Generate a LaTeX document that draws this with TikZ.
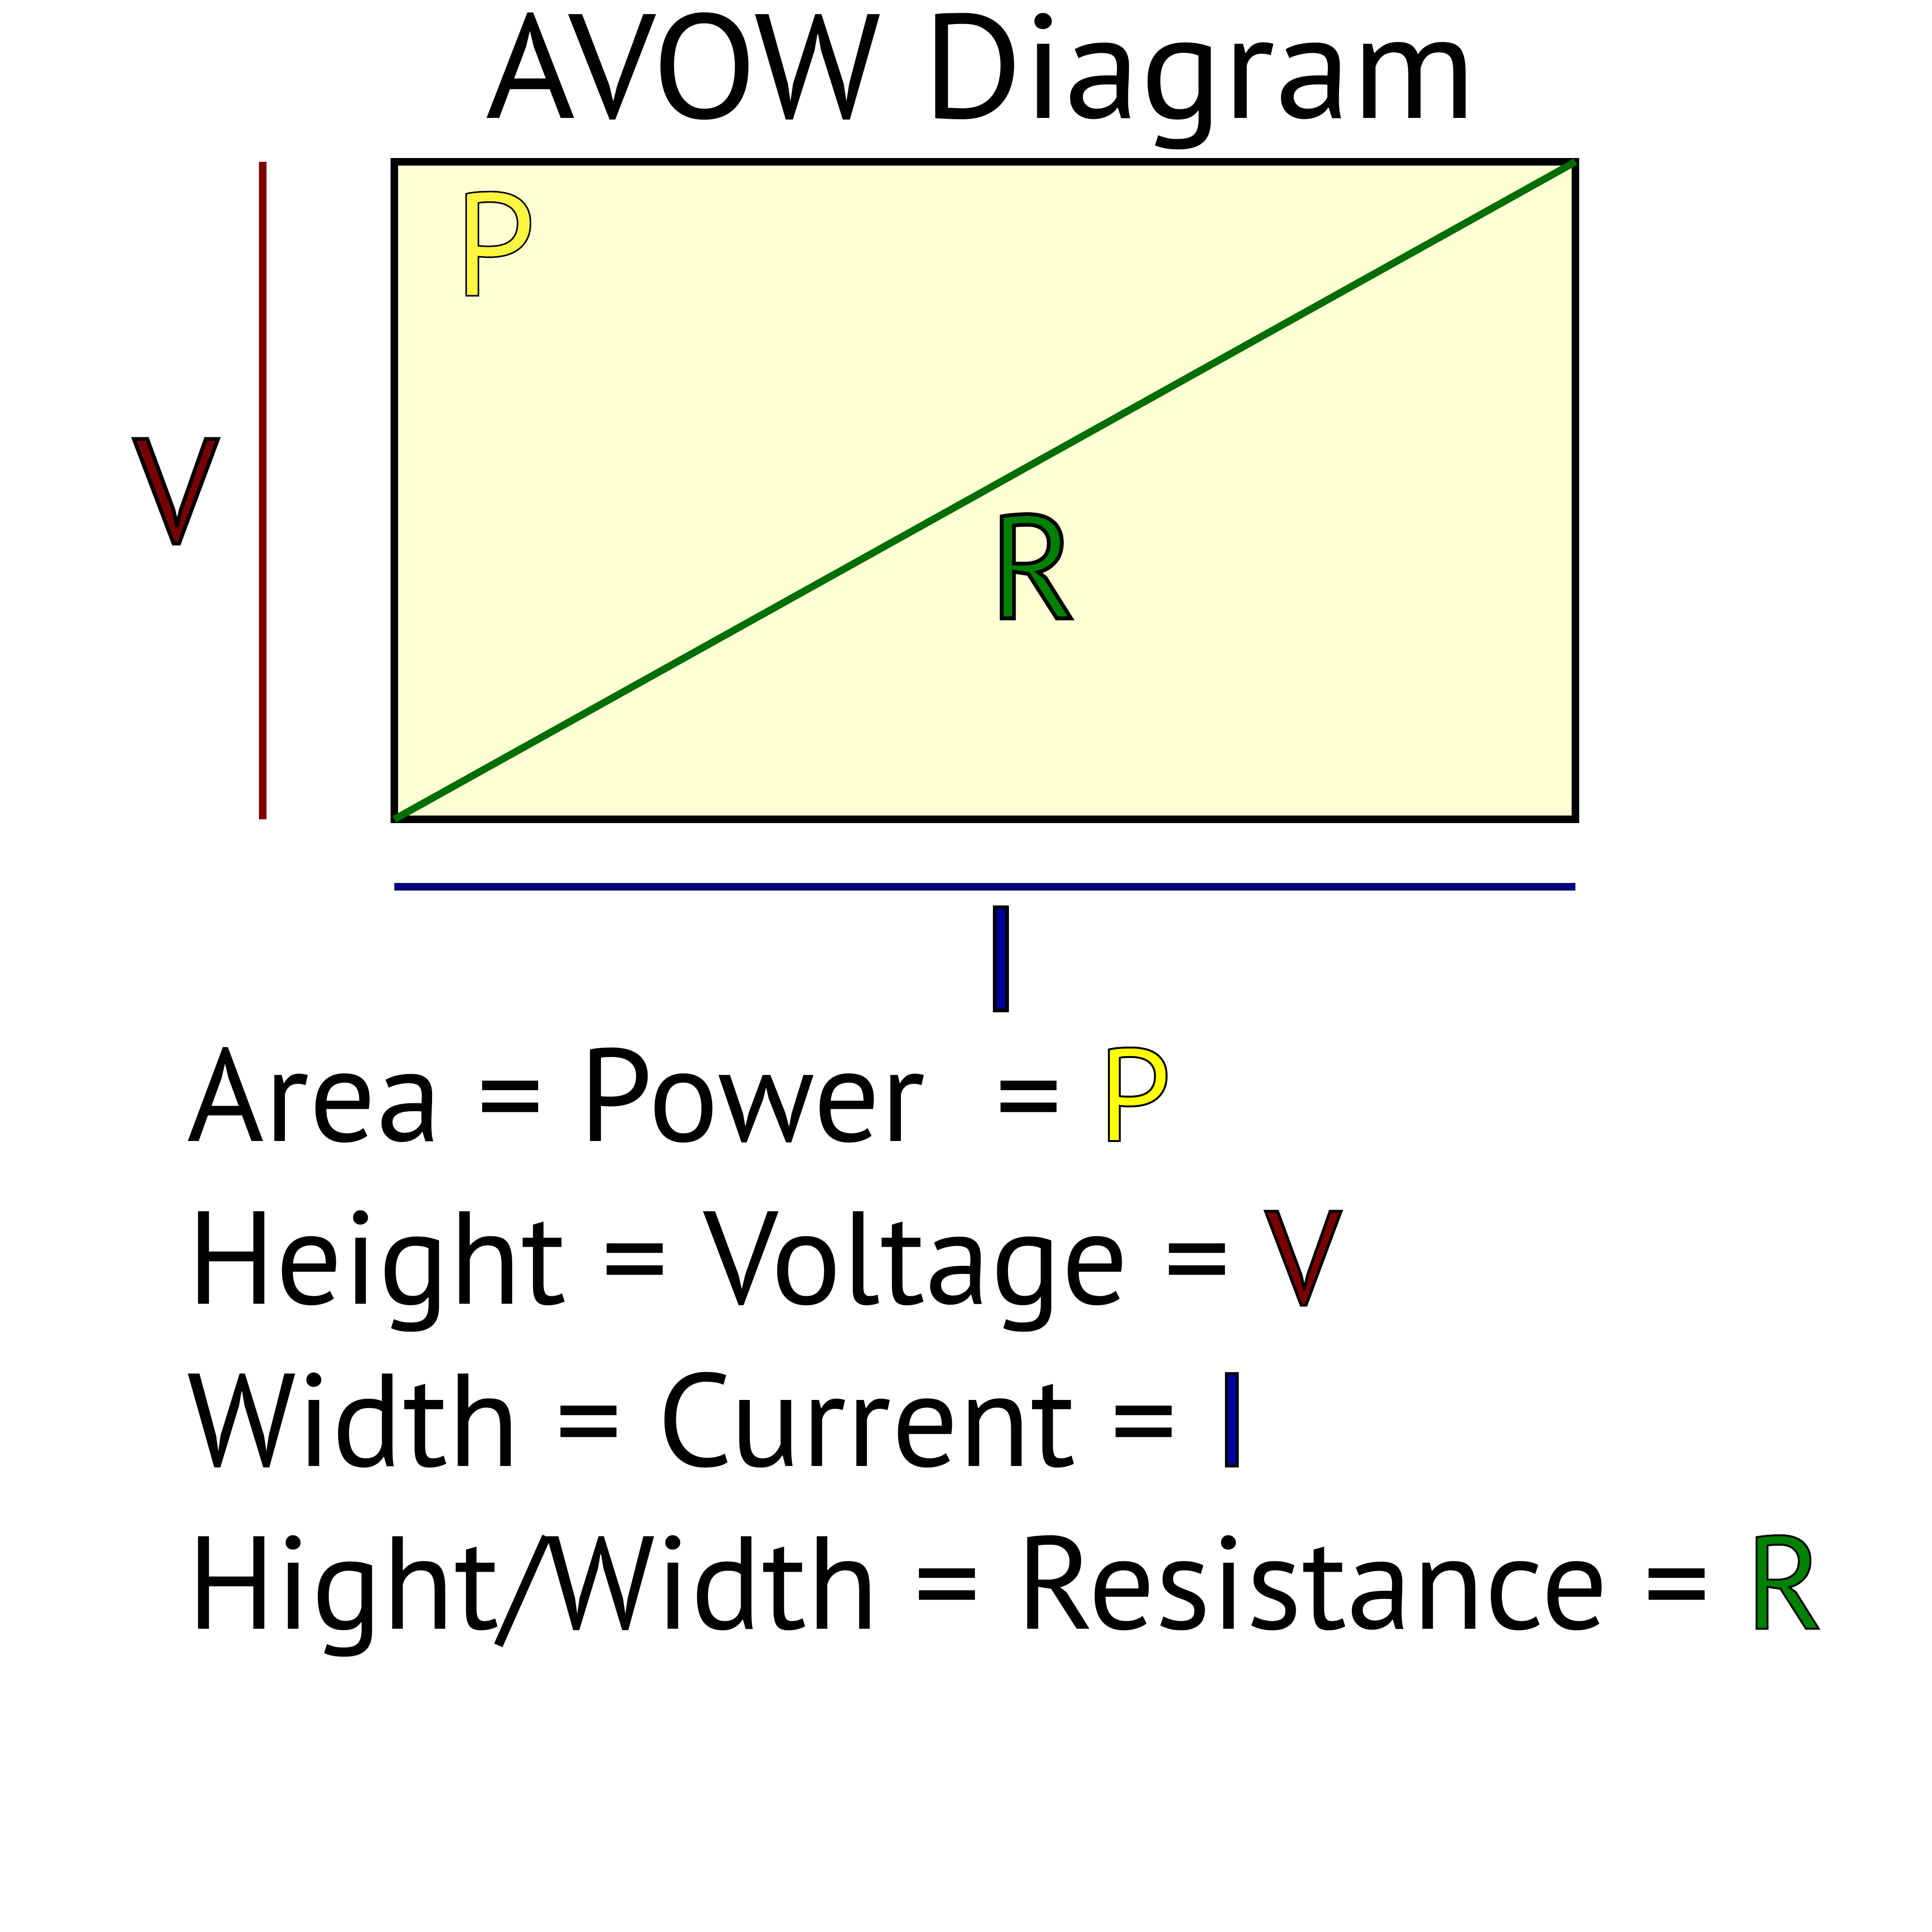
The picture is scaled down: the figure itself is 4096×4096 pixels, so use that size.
\documentclass[tikz,border=0pt]{standalone}
\usepackage{fontspec}
\setmainfont{PT Sans}
\definecolor{boxfill}{RGB}{255,255,212}
\definecolor{pboxcol}{RGB}{255,246,66}
\definecolor{peqcol}{RGB}{255,255,0}
\definecolor{vcol}{RGB}{120,0,0}
\definecolor{rcol}{RGB}{0,128,0}
\definecolor{icol}{RGB}{0,0,160}
\definecolor{redline}{RGB}{128,0,0}
\definecolor{greenline}{RGB}{0,110,0}
\definecolor{blueline}{RGB}{0,0,120}
\newcommand\outl[3]{{\color{#1}\special{pdf:literal direct 0 0 0 RG #2 w 2 Tr}#3\special{pdf:literal direct 0 Tr}}}
\tikzset{
  titletext/.style={font=\fontsize{78.6pt}{94pt}\selectfont\addfontfeature{FakeStretch=1.037}, inner sep=0pt, anchor=base},
  lettertext/.style={font=\fontsize{78pt}{94pt}\selectfont, inner sep=0pt, anchor=base},
  eqtext/.style={font=\fontsize{70pt}{84pt}\selectfont, inner sep=0pt, anchor=base west},
}
\begin{document}
\begin{tikzpicture}[x=0.25pt,y=-0.25pt]
\useasboundingbox (0,0) rectangle (4096,4096);
\fill[white] (0,0) rectangle (4096,4096);
\coordinate (tl) at (836,343);
\coordinate (br) at (3340,1737);
\coordinate (bl) at (836,1737);
\coordinate (tr) at (3340,343);
\coordinate (vtop) at (557,343);
\coordinate (vbot) at (557,1737);
\coordinate (ileft) at (836,1880);
\coordinate (iright) at (3340,1880);
\draw[line width=4pt, fill=boxfill] (tl) rectangle (br);
\draw[line width=3.8pt, greenline] (bl) -- (tr);
\draw[line width=4pt, redline] (vtop) -- (vbot);
\draw[line width=4pt, blueline] (ileft) -- (iright);
\node[titletext] (title) at (2080,251) {AVOW Diagram};
\node[lettertext] (vlab) at (373,1149) {\outl{vcol}{2}{V}};
\node[lettertext] (plab) at (1049,627) {\outl{pboxcol}{0.8}{P}};
\node[lettertext] (rlab) at (2190,1311) {\outl{rcol}{2}{R}};
\node[lettertext] (ilab) at (2122,2142) {\outl{icol}{2}{I}};
\node[eqtext] (eq1) at (396,2419) {Area = Power \ = \outl{peqcol}{1}{P}};
\node[eqtext] (eq2) at (396,2764) {Height = Voltage = \outl{vcol}{1.5}{V}};
\node[eqtext] (eq3) at (396,3108) {Width = Current = \outl{icol}{1.5}{I}};
\node[eqtext] (eq4) at (396,3453) {Hight/Width = Resistance = \outl{rcol}{1}{R}};
\end{tikzpicture}
\end{document}
